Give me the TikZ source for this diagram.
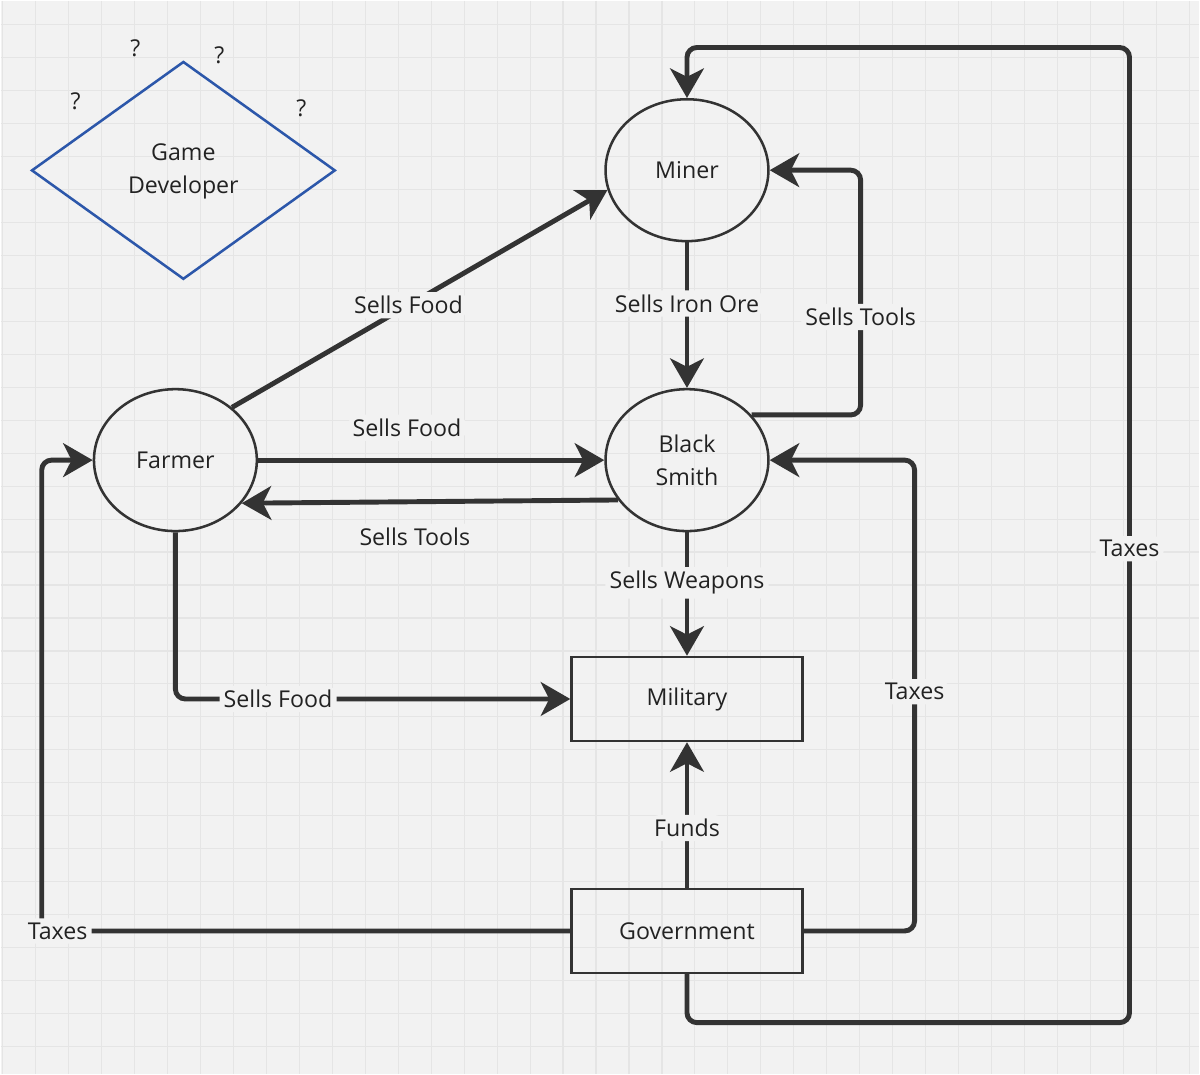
\documentclass[tikz,border=0pt]{standalone}
\usepackage{fontspec}
\setmainfont{Open Sans}
\usepackage{tikz}
\usetikzlibrary{arrows.meta,positioning,shapes.geometric,calc}
\usepackage{xcolor}
\definecolor{bgcol}{RGB}{242,242,242}
\definecolor{gridcol}{RGB}{229,229,229}
\definecolor{linecol}{RGB}{51,51,51}
\definecolor{txtcol}{RGB}{34,34,34}
\definecolor{devblue}{RGB}{44,87,170}

\begin{document}
\begin{tikzpicture}[
      x=0.025cm, y=-0.025cm,
      font=\fontsize{16.5}{23.4}\selectfont,
      ell/.style={draw=linecol,ellipse,line width=1.8pt,minimum width=4.075cm,minimum height=3.55cm,align=center,text=txtcol},
      box/.style={draw=linecol,line width=1.8pt,minimum width=5.775cm,minimum height=2.1cm,text=txtcol},
      flow/.style={draw=linecol,line width=3.5pt,rounded corners=7pt,-{Stealth[length=21pt,width=24pt,inset=6pt]}},
      lbl/.style={fill=bgcol,inner sep=3pt,text=txtcol}
    ]
    % background and grid
    \fill[bgcol] (0,0) rectangle (1200,1074);
    \foreach \gx in {2,35,...,1200} \draw[gridcol,line width=0.8pt] (\gx,0) -- (\gx,1074);
    \foreach \gy in {24,57,...,1074} \draw[gridcol,line width=0.8pt] (0,\gy) -- (1200,\gy);
    \useasboundingbox (0,0) rectangle (1200,1074);

    \node[diamond,draw=devblue,line width=1.8pt,minimum width=7.6cm,minimum height=5.45cm,text=txtcol] (dev) at (183,170) {\raisebox{-2.1pt}{\begin{tabular}{@{}c@{}}Game\\Developer\end{tabular}}};
    \node[text=txtcol] (q1) at (135,48) {?};
    \node[text=txtcol] (q2) at (219,55) {?};
    \node[text=txtcol] (q3) at (75,101) {?};
    \node[text=txtcol] (q4) at (301,108) {?};

    \node[ell] (farmer) at (175,460) {Farmer};
    \node[ell,right=8.66cm of farmer] (smith) {Black\\Smith};
    \node[ell,above=3.64cm of smith] (miner) {Miner};
    \node[box,below=3.087cm of smith] (military) {Military};
    \node[box,below=3.64cm of military] (gov) {Government};
    \coordinate (taxbr) at (1130,1023);
    \coordinate (taxtr) at (1130,47);

    \draw[flow] (farmer.43) -- node[lbl,pos=.47]{Sells Food} (miner.194);
    \draw[flow] (miner.south) -- node[lbl,pos=.42]{Sells Iron Ore} (smith.north);
    \draw[flow] (smith.35) -| node[lbl,pos=.7]{Sells Tools} ($(miner.east)+(91,0)$) -- (miner.east);
    \draw[flow] (farmer.east) -- node[lbl,pos=.43,yshift=23pt]{Sells Food} (smith.west);
    \draw[flow] (smith.210) -- node[lbl,pos=.54,yshift=-25pt]{Sells Tools} (farmer.327);
    \draw[flow] (smith.south) -- node[lbl,pos=.41]{Sells Weapons} (military.north);
    \draw[flow] (farmer.south) |- node[lbl,pos=.63]{Sells Food} (military.west);
    \draw[flow] (gov.north) -- node[lbl,pos=.41]{Funds} (military.south);
    \draw[flow] (gov.east) -| node[lbl,pos=.754]{Taxes} ($(smith.east)+(145,0)$) -- (smith.east);
    \draw[flow] (gov.west) -| node[lbl,pos=.485]{Taxes} ($(farmer.west)+(-51,0)$) -- (farmer.west);
    \draw[flow] (gov.south) |- (taxbr) -- node[lbl,pos=.486]{Taxes} (taxtr) -| (miner.north);
  \end{tikzpicture}
\end{document}
